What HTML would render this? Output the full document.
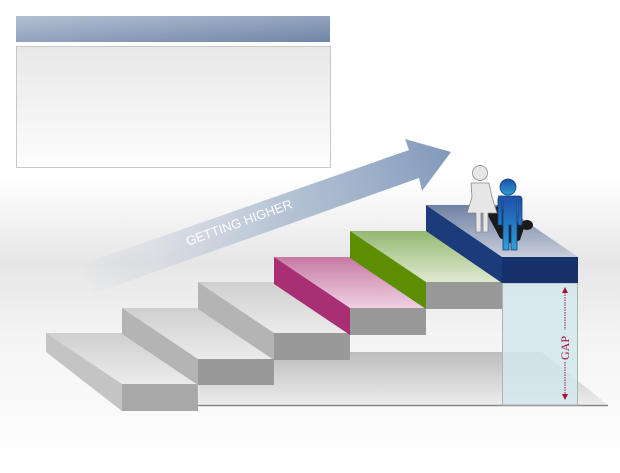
<!DOCTYPE html>
<html><head><meta charset="utf-8"><style>
html,body{margin:0;padding:0}
body{width:620px;height:468px;overflow:hidden;background:#fff;font-family:"Liberation Sans",sans-serif}
</style></head><body>
<svg width="620" height="468" viewBox="0 0 620 468" xmlns="http://www.w3.org/2000/svg">
<defs>
<linearGradient id="bg" x1="0" y1="0" x2="0" y2="1">
<stop offset="0" stop-color="#fff"/><stop offset="0.38" stop-color="#fff"/>
<stop offset="0.56" stop-color="#e6e6e6"/><stop offset="0.72" stop-color="#f4f4f4"/><stop offset="1" stop-color="#fff"/></linearGradient>
<linearGradient id="hdr" x1="0" y1="0" x2="1" y2="1">
<stop offset="0" stop-color="#b4c0d2"/><stop offset="1" stop-color="#6f86a8"/></linearGradient>
<linearGradient id="box" x1="0" y1="0" x2="0" y2="1">
<stop offset="0" stop-color="#e8e8e8"/><stop offset="1" stop-color="#fdfdfd"/></linearGradient>
<linearGradient id="arr" x1="80" y1="280" x2="451" y2="152" gradientUnits="userSpaceOnUse">
<stop offset="0" stop-color="#8aa0bf" stop-opacity="0"/><stop offset="0.2" stop-color="#a6b6cc" stop-opacity="0.2"/><stop offset="0.55" stop-color="#a6b6cc" stop-opacity="0.8"/><stop offset="1" stop-color="#8199bb"/></linearGradient>
<linearGradient id="gt" x1="0" y1="0" x2="0" y2="1"><stop offset="0" stop-color="#cfcfcf"/><stop offset="1" stop-color="#ebebeb"/></linearGradient>
<linearGradient id="pt" x1="0" y1="0" x2="0" y2="1"><stop offset="0" stop-color="#c67aa3"/><stop offset="1" stop-color="#efd0e2"/></linearGradient>
<linearGradient id="grt" x1="0" y1="0" x2="0" y2="1"><stop offset="0" stop-color="#94b872"/><stop offset="1" stop-color="#dfe9cf"/></linearGradient>
<linearGradient id="nt" x1="0" y1="0" x2="0" y2="1"><stop offset="0" stop-color="#6f80a3"/><stop offset="1" stop-color="#c8cedb"/></linearGradient>
<linearGradient id="fl" x1="0" y1="0" x2="0" y2="1"><stop offset="0" stop-color="#bdbdbd"/><stop offset="1" stop-color="#ececec"/></linearGradient>
<linearGradient id="man" x1="0" y1="0" x2="0" y2="1"><stop offset="0" stop-color="#1f4fa8"/><stop offset="1" stop-color="#2aa0d8"/></linearGradient>
</defs>
<rect width="620" height="468" fill="url(#bg)"/>
<rect x="16" y="16" width="314" height="26" fill="url(#hdr)"/>
<rect x="16.5" y="46.5" width="314" height="121" fill="url(#box)" stroke="#c8c8c8"/>
<polygon points="80,265 409,150 405,139 451,152 422,191 419,178 95,293" fill="url(#arr)"/>
<text x="0" y="0" transform="translate(188,246) rotate(-20)" fill="#fff" font-size="13">GETTING HIGHER</text>
<polygon points="200,352 542,352 608,405 198,405" fill="url(#fl)"/>
<line x1="198" y1="405.5" x2="608" y2="405.5" stroke="#888" stroke-width="1.5"/>
<rect x="502.5" y="283" width="75" height="122" fill="#d3e8ed" fill-opacity="0.85" stroke="#a8b4b8"/>
<line x1="565" y1="292" x2="565" y2="330" stroke="#a3143c" stroke-dasharray="1.5,1"/>
<line x1="565" y1="362" x2="565" y2="396" stroke="#a3143c" stroke-dasharray="1.5,1"/>
<polygon points="565,287 562,293 568,293" fill="#a3143c"/>
<polygon points="565,400 562,394 568,394" fill="#a3143c"/>
<text transform="translate(569,360) rotate(-90)" fill="#a3143c" font-size="12" font-family="Liberation Serif,serif">GAP</text>
<g><polygon points="46,333 122,333 198,384 122,384" fill="url(#gt)"/><polygon points="46,333 122,384 122,411 46,352" fill="#c4c4c4"/><rect x="122" y="384" width="76" height="27" fill="#a8a8a8"/></g>
<g><polygon points="122,308 198,308 274,359 198,359" fill="url(#gt)"/><polygon points="122,308 198,359 198,385 122,334" fill="#b4b4b4"/><rect x="198" y="359" width="76" height="26" fill="#999"/></g>
<g><polygon points="198,282 274,282 350,333 274,333" fill="url(#gt)"/><polygon points="198,282 274,333 274,360 198,309" fill="#b4b4b4"/><rect x="274" y="333" width="76" height="27" fill="#999"/></g>
<g><polygon points="274,257 350,257 426,308 350,308" fill="url(#pt)"/><polygon points="274,257 350,308 350,335 274,284" fill="#a82f74"/><rect x="350" y="308" width="76" height="27" fill="#999"/></g>
<g><polygon points="350,231 426,231 502,282 426,282" fill="url(#grt)"/><polygon points="350,231 426,282 426,309 350,258" fill="#5b8e00"/><rect x="426" y="282" width="76" height="27" fill="#999"/></g>
<g><polygon points="426,205 502,205 578,257 502,257" fill="url(#nt)"/><polygon points="426,205 502,257 502,283 426,231" fill="#1c3b7a"/><rect x="502" y="257" width="76" height="26" fill="#15306a"/></g>
<g fill="#1a1a1a"><ellipse cx="527" cy="225" rx="6" ry="5"/><polygon points="486,212 498,206 524,228 520,240 512,244 500,238"/></g>
<g fill="#e6e6e6" stroke="#8a8a8a" stroke-width="0.8">
<circle cx="480" cy="173" r="7.5"/>
<path d="M471,183 h18 l3,14 l5,16 h-9 v19 h-5 v-19 h-2 v19 h-5 v-19 h-9 l5,-16 z"/></g>
<g fill="url(#man)" stroke="#163e80" stroke-width="0.8">
<circle cx="508" cy="187" r="8"/>
<path d="M498,196 h21 a3,3 0 0 1 3,3 v26 h-4 v-23 h-1 v48 h-6 v-25 h-2 v25 h-6 v-48 h-1 v23 h-4 v-26 a3,3 0 0 1 3,-3 z"/></g>
</svg>
</body></html>
